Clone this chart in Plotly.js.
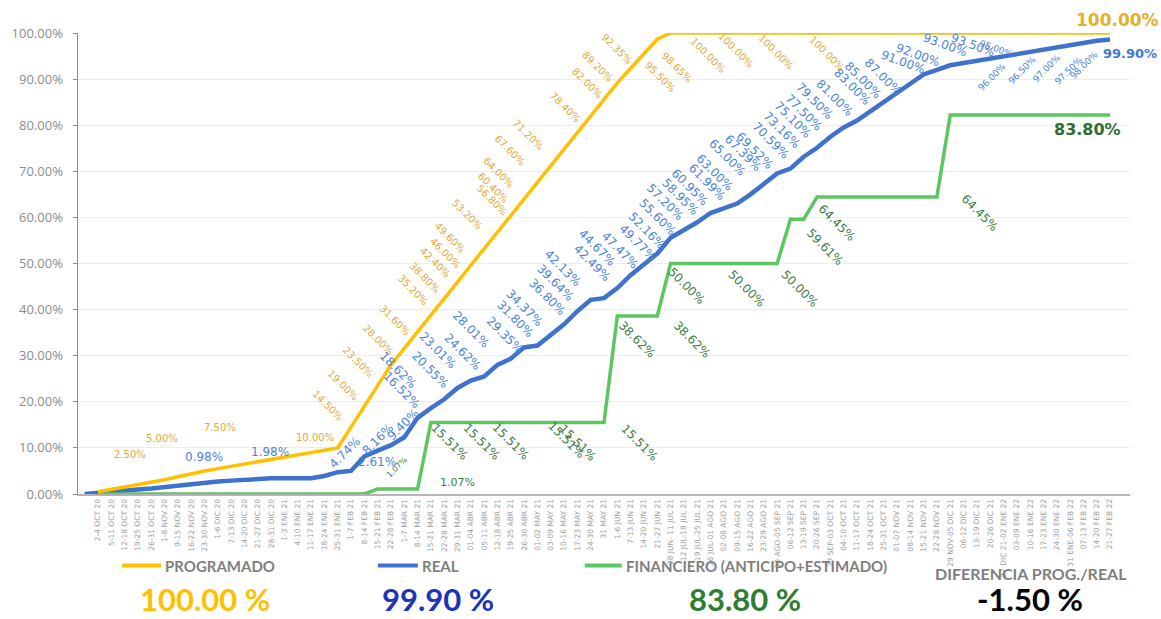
<!DOCTYPE html>
<html><head><meta charset="utf-8">
<script src="https://cdn.plot.ly/plotly-3.0.1.min.js"></script>
<style>html,body{margin:0;padding:0;background:#fff;}#chart{width:1161px;height:619px;}</style>
</head><body><div id="chart"></div>
<script>
// ---------------- DATA ----------------
const categories = ['2-4 OCT 20','5-11 OCT 20','12-18 OCT 20','19-25 OCT 20','26-31 OCT 20','1-8 NOV 20','9-15 NOV 20','16-22 NOV 20','23-30 NOV 20','1-6 DIC 20','7-13 DIC 20','14-20 DIC 20','21-27 DIC 20','28-31 DIC 20','1-3 ENE 21','4-10 ENE 21','11-17 ENE 21','18-24 ENE 21','25-31 ENE 21','1-7 FEB 21','8-14 FEB 21','15-21 FEB 21','22-28 FEB 21','1-7 MAR 21','8-14 MAR 21','15-21 MAR 21','22-28 MAR 21','29-31 MAR 21','01-04 ABR 21','05-11 ABR 21','12-18 ABR 21','19-25 ABR 21','26-30 ABR 21','01-02 MAY 21','03-09 MAY 21','10-16 MAY 21','17-23 MAY 21','24-30 MAY 21','31 MAY 21','1-6 JUN 21','7-13 JUN 21','14-20 JUN 21','21-27 JUN 21','28 JUN- 11 JUL 21','12 JUL-18 JUL 21','19 JUL-25 JUL 21','26 JUL-01 AGO 21','02-08 AGO 21','09-15 AGO 21','16-22 AGO 21','23-29 AGO 21','30 AGO-05 SEP 21','06-12 SEP 21','13-19 SEP 21','20-26 SEP 21','27 SEP-03 OCT 21','04-10 OCT 21','11-17 OCT 21','18-24 OCT 21','25-31 OCT 21','01-07 NOV 21','08-14 NOV 21','15-21 NOV 21','22-28 NOV 21','29 NOV-05 DIC 21','06-12 DIC 21','13-19 DIC 21','20-26 DIC 21','27 DIC 21-02 ENE 22','03-09 ENE 22','10-16 ENE 22','17-23 ENE 22','24-30 ENE 22','31 ENE-06 FEB 22','07-13 FEB 22','14-20 FEB 22','21-27 FEB 22'];

// one unlabeled slot before and after the labelled weeks
const programado = [null,0.5,1.0,1.5,2.0,2.5,3.1,3.75,4.4,5.0,5.5,6.0,6.5,7.0,7.5,8.0,8.5,9.0,9.5,10.0,14.5,19.0,23.5,28.0,31.6,35.2,38.8,42.4,46.0,49.6,53.2,56.8,60.4,64.0,67.6,71.2,74.8,78.4,82.0,85.6,89.2,92.35,95.5,98.65,100,100,100,100,100,100,100,100,100,100,100,100,100,100,100,100,100,100,100,100,100,100,100,100,100,100,100,100,100,100,100,100,100,100,null];
const real = [0,0.3,0.6,0.8,1.0,1.2,1.5,2.0,2.3,2.5,2.7,2.9,3.1,3.3,3.4,3.4,3.3,3.4,3.9,4.74,5.0,8.16,9.40,10.6,12.3,16.52,18.62,20.55,23.01,24.62,25.5,28.01,29.35,31.80,32.2,34.37,36.80,39.64,42.13,42.49,44.67,47.47,49.77,52.16,55.60,57.20,58.95,60.95,61.99,63.00,65.00,67.39,69.52,70.59,73.16,75.10,77.50,79.50,81.00,83.00,85.00,87.00,89.00,91.00,92.00,93.00,93.50,94.0,94.5,95.0,95.5,96.0,96.5,97.0,97.5,98.0,98.3,98.6,null];
const financiero = [null,0,0,0,0,0,0,0,0,0,0,0,0,0,0,0,0,0,0,0,0,0,1.07,1.07,1.07,1.07,15.51,15.51,15.51,15.51,15.51,15.51,15.51,15.51,15.51,15.51,15.51,15.51,15.51,15.51,38.62,38.62,38.62,38.62,50,50,50,50,50,50,50,50,50,59.61,59.61,64.45,64.45,64.45,64.45,64.45,64.45,64.45,64.45,64.45,64.45,82.2,82.2,82.2,82.2,82.2,82.2,82.2,82.2,82.2,82.2,82.2,82.2,82.2,null];

// data labels (week index, value shown)
const progLabelIdx = [5,9,14,19,20,21,22,23,24,25,26,27,28,29,30,31,32,33,34,35,37,38,40,41,42,43,46,48,51,55];
const progLabelVal = [2.50,5.00,7.50,10.00,14.50,19.00,23.50,28.00,31.60,35.20,38.80,42.40,46.00,49.60,53.20,56.80,60.40,64.00,67.60,71.20,78.40,82.00,89.20,92.35,95.50,98.65,100.00,100.00,100.00,100.00];
const realLabelIdx = [9,14,19,20,21,22,25,26,27,28,29,31,32,33,35,36,37,38,39,40,41,42,43,44,45,46,47,48,49,50,51,52,53,54,55,56,57,58,59,60,61,63,64,65,66,67,71,72,73,74,75];
const realLabelVal = [0.98,1.98,4.74,2.61,8.16,9.40,16.52,18.62,20.55,23.01,24.62,28.01,29.35,31.80,34.37,36.80,39.64,42.13,42.49,44.67,47.47,49.77,52.16,55.60,57.20,58.95,60.95,61.99,63.00,65.00,67.39,69.52,70.59,73.16,75.10,77.50,79.50,81.00,83.00,85.00,87.00,91.00,92.00,93.00,93.50,95.00,96.00,96.50,97.00,97.50,98.00];
const finLabelIdx = [22,25,26,29,31,35,36,39,40,43,44,49,52,54,55,64];
const finLabelVal = [1.07,1.07,15.51,15.51,15.51,15.51,15.51,15.51,38.62,38.62,50.00,50.00,50.00,59.61,64.45,64.45];

const yTickVals = [0,10,20,30,40,50,60,70,80,90,100];
const seriesNames = ['PROGRAMADO','REAL','FINANCIERO (ANTICIPO+ESTIMADO)'];
const summaryTitle = 'DIFERENCIA PROG./REAL';
const summaryValues = [100.00, 99.90, 83.80, -1.50];

// ---------------- LAYOUT / STYLE ----------------
const COL = {prog:'#FFC000', real:'#3F72CC', fin:'#5CC660',
             progLbl:'#E2AA3C', realLbl:'#4A84DC', finLbl:'#3C7D44'};
const L = 78, R = 30.5, T = 32.7, B = 124.7, WD = 1161, HT = 619;
const PW = WD - L - R, PH = HT - T - B;
const fx = p => (p - L) / PW;
const fy = p => (HT - B - p) / PH;

// label offsets [dx, dy(px, down positive), angle, size]
const progOff = [[-21,-28,0,10],[-43,-32,0,10],[-51,-32,0,10],[-23,-10,0,10],
 [-23,-22,45,10],[-21,-21,45,10],[-20,-24,45,10],[-13,-25,45,10],[-9,-28,45,10],[-5,-42,45,10],[-6,-38,45,10],[-9,-36,45,10],[-13,-29,45,10],[-21,-28,45,10],[-17,-34,45,10],[-5,-32,45,10],[-18,-28,45,10],[-26,-26,45,10],[-27,-32,45,10],[-23,-31,45,10],[-12,-25,45,10],[-4,-33,45,10],[-20,-16,45,10],[-14,-20,45,10],[16,23,45,10],[20,28,45,10],[11,22,45,10],[13,17,45,10],[13,19,45,10],[10,20,45,10]];
const realOff = [[-1,-25,0,12],[-1,-26,0,12],[7,-19,-45,12],[26,-9,0,12],[14,-17,-45,12],[25,-26,-45,12],
 [-16,-28,45,12],[-33,-38,45,12],[-14,-29,45,12],[-20,-38,45,12],[-8,-29,45,12],[-26,-35,45,12],[-6,-24,45,12],[-9,-28,45,12],[-26,-28,45,12],[-17,-27,45,12],[-22,-28,45,12],[-28,-32,45,12],[-12,-35,45,12],[-20,-40,45,12],[-11,-25,45,12],[-6,-22,45,12],[-10,-23,45,12],[-13,-21,45,12],[-19,-28,45,12],[-17,-25,45,12],[-21,-26,45,12],[-17,-26,45,12],[-22,-31,45,12],[-23,-36,45,12],[-21,-30,45,12],[-22,-23,45,12],[-19,-28,45,12],[-22,-27,45,12],[-24,-28,45,12],[-26,-24,45,12],[-29,-27,45,12],[-22,-23,45,12],[-18,-24,45,12],[-21,-22,45,12],[-14,-16,45,12],
 [-21,-12,20,12],[-19,-15,20,12],[-5,-20,20,12],[9,-18,20,12],[20,-12,20,9],
 [-38,26,-45,9],[-21,21,-45,9],[-10,21,-45,9],[-2,26,-45,9],[1,23,-45,9]];
const finOff = [[19,-22,-45,8],[40,-7,0,11],[19,19,45,12],[11,19,45,12],[14,19,45,12],[16,17,45,12],[14,20,45,12],[36,20,45,12],[20,24,45,12],[35,24,45,12],[16,22,45,12],[10,25,45,12],[23,25,45,12],[21,28,45,12],[20,26,45,12],[43,16,45,12]];

const xIdx = programado.map((_, i) => i);
const tickText = categories.slice();
const tickVals = categories.map((_, i) => i + 1);

const traces = [
  {x:xIdx, y:real, type:'scatter', mode:'lines', line:{color:COL.real, width:4.5}, cliponaxis:false, hoverinfo:'skip'},
  {x:xIdx, y:financiero, type:'scatter', mode:'lines', line:{color:COL.fin, width:3.5}, cliponaxis:false, hoverinfo:'skip'},
  {x:xIdx, y:programado, type:'scatter', mode:'lines', line:{color:COL.prog, width:3.5}, cliponaxis:false, hoverinfo:'skip'}
];

const anns = [];
function addLabels(series, idxs, vals, offs, color, weight) {
  idxs.forEach((i, k) => {
    const o = offs[k];
    anns.push({x:i, y:series[i], xref:'x', yref:'y', text:vals[k].toFixed(2) + '%', showarrow:false,
      xanchor:'center', yanchor:'middle', xshift:o[0], yshift:-o[1], textangle:o[2],
      font:{family:'DejaVu Sans', size:o[3], color:color, weight:weight}});
  });
}
addLabels(programado, progLabelIdx, progLabelVal, progOff, COL.progLbl, 400);
addLabels(real, realLabelIdx, realLabelVal, realOff, COL.realLbl, 400);
addLabels(financiero, finLabelIdx, finLabelVal, finOff, COL.finLbl, 400);

// end call-outs anchored on last week
const last = categories.length;
anns.push({x:last, y:programado[last], text:summaryValues[0].toFixed(2)+'%', showarrow:false, xanchor:'center', yanchor:'middle', xshift:7, yshift:13, font:{family:'DejaVu Sans', size:17, color:'#E6B02A', weight:700}});
anns.push({x:last, y:real[last], text:summaryValues[1].toFixed(2)+'%', showarrow:false, xanchor:'center', yanchor:'middle', xshift:20, yshift:-14, font:{family:'DejaVu Sans', size:13, color:'#3B78D8', weight:700}});
anns.push({x:last, y:financiero[last], text:summaryValues[2].toFixed(2)+'%', showarrow:false, xanchor:'center', yanchor:'middle', xshift:-23, yshift:-14, font:{family:'DejaVu Sans', size:16, color:'#2E6E34', weight:700}});

// bottom legend and summary
const shapes = [];
const legendLines = [[122,161,COL.prog],[378,418,COL.real],[585,622,COL.fin]];
legendLines.forEach(l => shapes.push({type:'line', xref:'paper', yref:'paper', x0:fx(l[0]), x1:fx(l[1]), y0:fy(566), y1:fy(566), line:{color:l[2], width:4}}));
const legendTextX = [163, 420, 624];
seriesNames.forEach((n, k) => anns.push({xref:'paper', yref:'paper', x:fx(legendTextX[k]), y:fy(566), text:n, showarrow:false, xanchor:'left', yanchor:'middle', font:{family:'Lato', size:15, color:'#7F7F7F', weight:700}}));
anns.push({xref:'paper', yref:'paper', x:fx(1031), y:fy(574), text:summaryTitle, showarrow:false, xanchor:'center', yanchor:'middle', font:{family:'Lato', size:16, color:'#7F7F7F', weight:700}});
const bigX = [205, 438, 745, 1030];
const bigC = ['#FFC000', '#1E34B8', '#2E7D32', '#000000'];
summaryValues.forEach((v, k) => anns.push({xref:'paper', yref:'paper', x:fx(bigX[k]), y:fy(599), text:v.toFixed(2) + ' %', showarrow:false, xanchor:'center', yanchor:'middle', font:{family:'Lato', size:31, color:bigC[k], weight:700}}));

const layout = {
  width:WD, height:HT, margin:{l:L, r:R, t:T, b:B, pad:0},
  paper_bgcolor:'#ffffff', plot_bgcolor:'#ffffff', showlegend:false,
  xaxis:{range:[-0.5, categories.length + 1.5], tickmode:'array', tickvals:tickVals, ticktext:tickText, tickangle:-90,
    tickfont:{family:'DejaVu Sans', size:7.5, color:'#A0A0A0'}, showgrid:false, zeroline:false,
    showline:true, linecolor:'#B4B4B4', linewidth:2, ticks:'', fixedrange:true},
  yaxis:{range:[0,100], tickmode:'array', tickvals:yTickVals, ticktext:yTickVals.map(v => v.toFixed(2) + '%'),
    tickfont:{family:'Open Sans', size:13, color:'#8C8C8C'}, showgrid:true, gridcolor:'#EDEDED', gridwidth:1,
    zeroline:false, showline:true, linecolor:'#8C8C8C', linewidth:1.5, ticks:'outside', ticklen:4, tickcolor:'#8C8C8C',
    ticklabelstandoff:7, fixedrange:true},
  annotations:anns, shapes:shapes
};
Plotly.newPlot('chart', traces, layout, {staticPlot:true, displayModeBar:false});
</script></body></html>
